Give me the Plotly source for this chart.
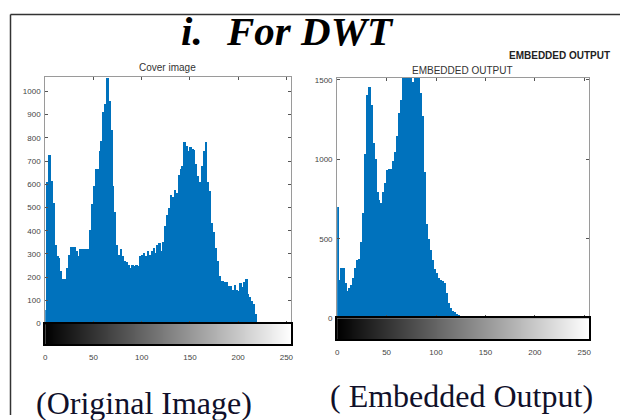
import plotly.graph_objects as go

# The page body has an 8px margin, so the figure is sized and placed to compensate.
OFF = 8
W, H = 628 - OFF, 420 - OFF

# ---- data (histogram counts, 2-level-wide bins) ----
bin_left = list(range(0, 256, 2))
gray_levels = list(range(256))

cover_counts = [
    60, 610, 725, 615, 520, 340, 290, 283, 227, 192,
    192, 241, 298, 330, 329, 329, 315, 291, 320, 322,
    322, 322, 322, 404, 517, 592, 665, 668, 743, 789,
    912, 948, 1060, 960, 835, 594, 482, 340, 298, 320,
    291, 270, 267, 255, 239, 255, 247, 255, 247, 290,
    295, 304, 291, 312, 298, 312, 326, 304, 338, 347,
    312, 354, 420, 470, 500, 555, 545, 578, 564, 640,
    668, 680, 785, 764, 743, 761, 753, 750, 687, 637,
    609, 680, 743, 785, 609, 573, 432, 397, 326, 270,
    206, 185, 185, 178, 178, 164, 164, 145, 168, 145,
    143, 174, 157, 178, 192, 129, 115, 100, 86, 44,
    8, 0, 0, 0, 0, 0, 0, 0, 0, 0,
    0, 0, 0, 0, 0, 0, 0, 0,
]

embedded_counts = [
    702, 245, 317, 317, 225, 173, 193, 214, 255, 317,
    368, 379, 482, 667, 1037, 1407, 1459, 1346, 1109, 1006,
    800, 749, 728, 800, 852, 934, 940, 944, 996, 1048,
    1150, 1295, 1377, 1560, 1560, 1560, 1560, 1560, 1490, 1560,
    1560, 1560, 1418, 1274, 924, 595, 502, 430, 368, 313,
    286, 255, 245, 241, 225, 164, 101, 70, 49, 43,
    33, 23, 14, 8, 0, 18, 18, 0, 0, 0,
    0, 0, 0, 0, 0, 0, 0, 0, 0, 0,
    0, 0, 0, 0, 0, 0, 0, 0, 0, 0,
    0, 0, 0, 0, 0, 0, 0, 0, 0, 0,
    0, 0, 0, 0, 0, 0, 0, 0, 0, 0,
    0, 0, 0, 0, 0, 0, 0, 0, 0, 0,
    0, 0, 0, 0, 0, 0, 0, 0,
]

x_ticks = [0, 50, 100, 150, 200, 250]
cover_yticks = [0, 100, 200, 300, 400, 500, 600, 700, 800, 900, 1000]
embedded_yticks = [0, 500, 1000, 1500]


def px(x):
    return (x - OFF) / W


def py(y):
    return 1 - (y - OFF) / H


BAR = "#0072BD"
TICKFONT = dict(family="Liberation Sans, Arial", size=8, color="#444444")

fig = go.Figure()

# Left histogram
fig.add_trace(go.Bar(x=bin_left, y=cover_counts, width=2, offset=0,
                     marker=dict(color=BAR, line=dict(width=0)),
                     xaxis="x", yaxis="y", showlegend=False))
# Left gradient bar
fig.add_trace(go.Heatmap(z=[gray_levels], x=gray_levels, y=[0],
                         colorscale=[[0, "black"], [1, "white"]],
                         showscale=False, xaxis="x2", yaxis="y2"))
# Right histogram
fig.add_trace(go.Bar(x=bin_left, y=embedded_counts, width=2, offset=0,
                     marker=dict(color=BAR, line=dict(width=0)),
                     xaxis="x3", yaxis="y3", showlegend=False))
# Right gradient bar
fig.add_trace(go.Heatmap(z=[gray_levels], x=gray_levels, y=[0],
                         colorscale=[[0, "black"], [1, "white"]],
                         showscale=False, xaxis="x4", yaxis="y4"))

L_dom = [px(43.5), px(291)]
R_dom = [px(337.3), px(591)]

main_axis = dict(showline=True, linecolor="#9a9a9a", linewidth=1, mirror="ticks",
                 ticks="inside", ticklen=3, tickcolor="#555555", showgrid=False,
                 zeroline=False, tickfont=TICKFONT)
cbar_axis = dict(showline=True, linecolor="black", linewidth=1.5, mirror=True,
                 showgrid=False, zeroline=False)

fig.update_layout(
    width=W, height=H,
    margin=dict(l=0, r=0, t=0, b=0),
    paper_bgcolor="white", plot_bgcolor="white",
    bargap=0,
    xaxis=dict(main_axis, domain=L_dom, range=[0, 255], tickvals=x_ticks,
               showticklabels=False, anchor="y"),
    yaxis=dict(main_axis, domain=[py(327), py(76)], range=[0, 1063],
               tickvals=cover_yticks, anchor="x", ticklabelstandoff=2),
    xaxis2=dict(cbar_axis, domain=L_dom, range=[0, 255], tickvals=x_ticks,
                ticks="", tickfont=TICKFONT, anchor="y2", ticklabelstandoff=4),
    yaxis2=dict(cbar_axis, domain=[py(348), py(327)], range=[-0.5, 0.5],
                showticklabels=False, ticks="", anchor="x2"),
    xaxis3=dict(main_axis, domain=R_dom, range=[0, 255], tickvals=x_ticks,
                showticklabels=False, anchor="y3"),
    yaxis3=dict(main_axis, domain=[py(321.7), py(76.7)], range=[0, 1515],
                tickvals=embedded_yticks, anchor="x3", ticklabelstandoff=2),
    xaxis4=dict(cbar_axis, domain=R_dom, range=[0, 255], tickvals=x_ticks,
                ticks="", tickfont=TICKFONT, anchor="y4", ticklabelstandoff=4),
    yaxis4=dict(cbar_axis, domain=[py(343), py(321.7)], range=[-0.5, 0.5],
                showticklabels=False, ticks="", anchor="x4"),
)

# Page frame lines
fig.add_shape(type="line", xref="paper", yref="paper",
              x0=px(8.5), x1=1.0, y0=py(12.5), y1=py(12.5),
              line=dict(color="#333333", width=1.5))
fig.add_shape(type="line", xref="paper", yref="paper",
              x0=px(8.5), x1=px(8.5), y0=py(12.5), y1=0,
              line=dict(color="#333333", width=1.5))

serif = "Liberation Serif, Times New Roman, serif"
ann = []
ann.append(dict(text="<b><i>i.</i></b>", x=px(178), y=py(29), xanchor="left", yanchor="middle",
                font=dict(family=serif, size=41, color="black")))
ann.append(dict(text="<b><i>For DWT</i></b>", x=px(223), y=py(29), xanchor="left", yanchor="middle",
                font=dict(family=serif, size=41, color="black")))
ann.append(dict(text="(Original Image)", x=px(143), y=py(408), xanchor="center", yanchor="middle",
                font=dict(family=serif, size=32, color="#10102a")))
ann.append(dict(text="( Embedded Output)", x=px(462), y=py(401), xanchor="center", yanchor="middle",
                font=dict(family=serif, size=32, color="#10102a")))
ann.append(dict(text="Cover image", x=px(167), y=py(67), xanchor="center", yanchor="middle",
                font=dict(family="Liberation Sans, Arial", size=10, color="#333333")))
ann.append(dict(text="EMBEDDED OUTPUT", x=px(463), y=py(70), xanchor="center", yanchor="middle",
                font=dict(family="Liberation Sans, Arial", size=10, color="#333333")))
ann.append(dict(text="<b>EMBEDDED OUTPUT</b>", x=px(508), y=py(54), xanchor="left", yanchor="middle",
                font=dict(family="Liberation Sans, Arial", size=10, color="#222222")))
for a in ann:
    a.update(xref="paper", yref="paper", showarrow=False)
fig.update_layout(annotations=ann)

fig.write_html("out.html")
